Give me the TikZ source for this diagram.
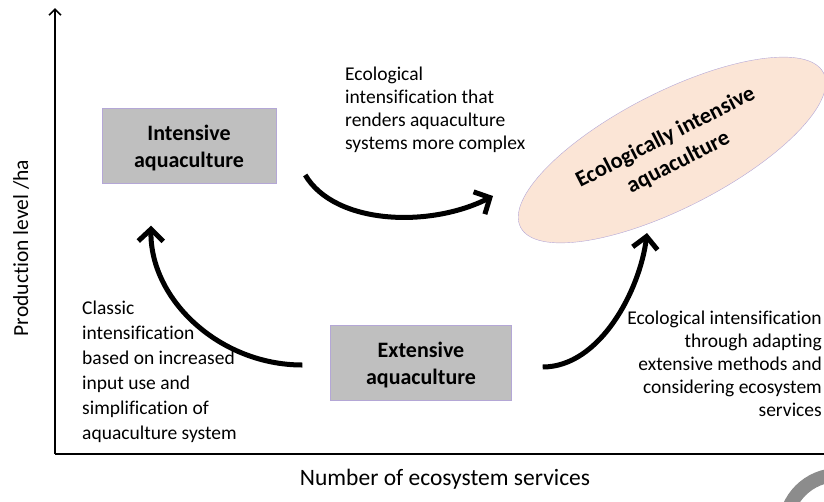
\documentclass[tikz,border=0pt]{standalone}
\usepackage{fontspec}
\setmainfont{Carlito}[Ligatures=CommonOff]
\usepackage{tikz}
\usetikzlibrary{arrows.meta,positioning}
\usetikzlibrary{calc}
\usetikzlibrary{shapes.geometric}
\definecolor{boxgrey}{HTML}{BFBFBF}
\definecolor{lilac}{HTML}{B4A7D6}
\definecolor{peach}{HTML}{FBE5D6}
\definecolor{ringgrey}{HTML}{8C8C8C}
\tikzstyle{box}=[draw=lilac, fill=boxgrey, thin, align=center, inner sep=0pt, text depth=-3pt, font=\fontsize{22}{27}\selectfont\bfseries]
\tikzstyle{eco}=[ellipse, draw=lilac, fill=peach, thin, align=center, inner sep=0pt, minimum width=340pt, minimum height=116pt, rotate=27, font=\fontsize{22.5}{28}\selectfont\bfseries]
\tikzstyle{note}=[inner sep=0pt, font=\fontsize{19.5}{23}\selectfont]
\tikzstyle{arr}=[line width=5pt, -{Straight Barb[length=12pt,width=25pt]}]
\tikzstyle{axis}=[line width=1.6pt]

\begin{document}
\begin{tikzpicture}[x=1pt, y=-1pt]
\useasboundingbox (0,0) rectangle (824,501);
% axes
\coordinate (o) at (55,454);
\coordinate (ytop) at (55,8);
\coordinate (xend) at (826,454);
\draw[axis, -{Straight Barb[length=6pt,width=12pt]}] (o) -- (ytop);
\draw[axis] (o) -- (xend);
\node[rotate=90, font=\fontsize{21.5}{25}\selectfont] (ylab) at (21,248) {Production level /ha};
\node[font=\fontsize{23.5}{27}\selectfont] (xlab) at (445,479) {Number of ecosystem services};
% boxes
\node[box, minimum width=174pt, minimum height=75pt] (int) at (189,146) {Intensive\\aquaculture};
\node[box, minimum width=181pt, minimum height=75pt] (ext) at (421,363) {Extensive\\aquaculture};
\node[eco] (eia) at (672,150) {Ecologically intensive\\aquaculture};
% notes
\node[note, anchor=north west, align=left] (n1) at (345,67) {Ecological\\intensification that\\renders aquaculture\\systems more complex};
\node[note, anchor=north west, align=left, font=\fontsize{19.5}{25}\selectfont] (n2) at (82,301) {Classic\\intensification\\based on increased\\input use and\\simplification of\\aquaculture system};
\node[note, anchor=north east, align=right] (n3) at (822,311) {Ecological intensification\\through adapting\\extensive methods and\\considering ecosystem\\services};
% arrows
\coordinate (a1) at ($(ext.west)+(-28,2)$);
\coordinate (b1) at ($(int.south)+(-38,42)$);
\coordinate (a2) at ($(int.east)+(29,29)$);
\coordinate (b2) at ($(eia.center)+(-179,46)$);
\coordinate (a3) at ($(ext.east)+(31,4)$);
\coordinate (b3) at ($(eia.center)+(-25,83)$);
\draw[arr] (a1) .. controls (220,365) and (150,300) .. (b1);
\draw[arr] (a2) .. controls (335,225) and (430,228) .. (b2);
\draw[arr] (a3) .. controls (600,367) and (640,290) .. (b3);
% logo ring
\draw[ringgrey, line width=14pt] (838,528) circle (53);
\end{tikzpicture}
\end{document}
